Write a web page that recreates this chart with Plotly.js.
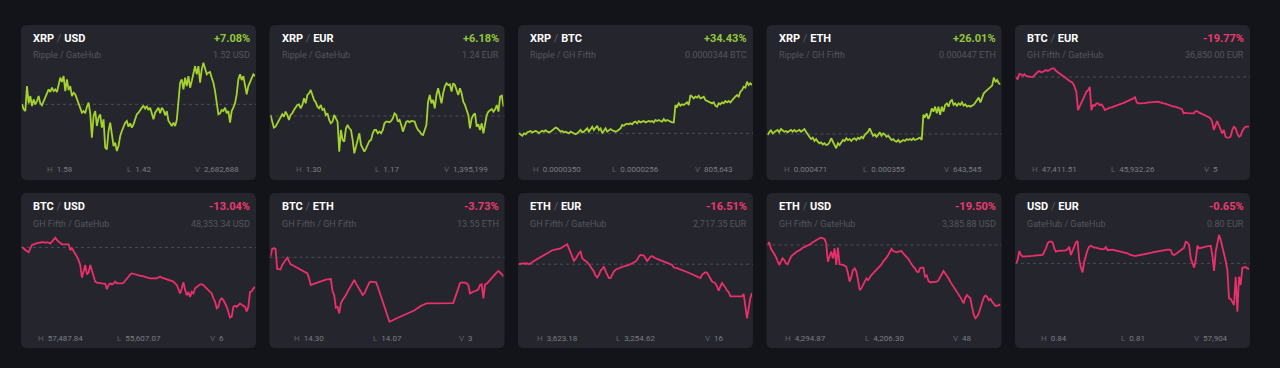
<!DOCTYPE html>
<html><head><meta charset="utf-8">
<script src="https://cdn.plot.ly/plotly-3.0.1.min.js"></script>
<style>html,body{margin:0;padding:0;background:#131419;overflow:hidden}#chart{width:1280px;height:368px}</style>
</head><body><div id="chart"></div>
<script>
// ---- card meta ----
const bases   = ['XRP','XRP','XRP','XRP','BTC','BTC','BTC','ETH','ETH','USD'];
const quotes  = ['USD','EUR','BTC','ETH','EUR','USD','ETH','EUR','USD','EUR'];
const issuers = ['Ripple / GateHub','Ripple / GateHub','Ripple / GH Fifth','Ripple / GH Fifth','GH Fifth / GateHub',
                 'GH Fifth / GateHub','GH Fifth / GH Fifth','GH Fifth / GateHub','GH Fifth / GateHub','GateHub / GateHub'];
const changes = [7.08, 6.18, 34.43, 26.01, -19.77, -13.04, -3.73, -16.51, -19.50, -0.65];
const prices  = ['1.52 USD','1.24 EUR','0.0000344 BTC','0.000447 ETH','36,850.00 EUR','48,353.34 USD','13.55 ETH','2,717.35 EUR','3,385.88 USD','0.80 EUR'];
const highs   = ['1.58','1.30','0.0000350','0.000471','47,411.51','57,487.84','14.30','3,623.18','4,294.87','0.84'];
const lows    = ['1.42','1.17','0.0000256','0.000355','45,932.26','55,607.07','14.07','3,254.62','4,206.30','0.81'];
const volumes = ['2,682,688','1,395,199','805,643','643,545','5','6','3','16','48','57,904'];

// ---- series: % change vs. opening price (dashed line = 0) ----
const xrpUsd = [0,-1.25,-1.67,4.58,0.25,2.08,-0.42,1.25,0,0.83,2.08,0.25,-0.25,0.83,1.67,2.5,3.75,3.08,4.17,3.33,
3.75,3.08,4.58,6.67,5.58,7.08,3.33,6.25,3.58,4.58,2.08,2.92,2.5,1.25,0.25,-1.42,-2.08,-1.67,-2.25,-0.58,
0.42,-2.25,-8.33,-2.92,-1.67,-5.42,-3.33,-2.5,-5.83,-3.75,-10.83,-11.25,-6.67,-4.58,-7.08,-10.42,-9.58,-11.67,-10.42,-7.92,
-6.67,-5.42,-4.58,-4.17,-5.58,-4.75,-5.83,-5,-3.75,-2.5,-2.08,-1.25,-0.83,-0.42,-1.08,-0.42,-1.42,-0.83,-2.5,-3.75,
-2.08,-1.25,-0.83,-2.25,-0.83,-1.42,-2.75,-1.67,-4.17,-4.75,-5.42,-4.58,-5.42,-3.92,1.67,5.42,6.25,3.75,6.67,4.58,
7.08,4.17,5.83,7.5,9.58,7.5,9.58,5.42,8.75,10.42,9.17,7.5,7.92,8.08,6.67,5.42,3.33,0.83,-2.5,-2.25,
-1.42,-1.67,-0.83,-2.25,-1.67,-4.58,-1.67,-0.83,0.25,2.5,6.25,7.5,6.08,7.08,5,2.5,4.58,5.58,6.42,7.5,7.08];
const xrpEur = [0.3,-1.5,-3.5,-3.2,-2.2,-1.2,-0.7,0.5,-0.2,1.3,0.3,-1.2,0.3,0.8,1.8,2.5,3.3,3.5,2.3,3.3,
5.3,3.8,6.3,6.8,7.8,6.3,4.8,4.1,2.8,2.3,3.3,1.8,2.1,0.3,0.8,-1.2,-2.2,-1.7,0.3,-0.7,
-1.7,-10.7,-4.2,-7.2,-7.7,-3.7,-2.7,-3.7,-4.2,-7.2,-11.2,-9.2,-6.7,-5.2,-8.7,-9.7,-10.7,-9.7,-8.7,-7.5,
-7.2,-5.2,-4.2,-4.2,-5.2,-4.7,-5.2,-4.2,-2.2,-1.7,-1.7,-1.9,-1.5,-0.7,0.8,0.3,-1.7,-1.2,-2.7,-4.7,
-3.2,-1.7,-1.5,-1.9,-1.5,-1.7,-1.7,-3.2,-4.2,-4.7,-5.5,-5.7,-4.2,-2.7,4.3,6.3,3.8,4.8,2.3,6.3,
8.3,6.3,3.8,6.8,8.8,9.8,9.3,9.5,7.3,9.8,9.3,7.8,6.3,8.3,6.8,4.3,3.3,1.8,0.3,-3.7,
-0.7,0.3,0.8,-3.2,-2.5,-4.2,-2.2,-5.2,-2.7,0.3,1.3,1.8,2.1,1.3,2.0,3.3,1.3,5.8,6.1,2.8];
const xrpBtc = [0,-0.7,-1.7,0,-0.7,0.7,1.2,1.7,0.7,1.2,1.7,1.2,0,1.2,1.9,1.2,2.2,1.2,0.7,1.2,
2.4,3.6,4.1,3.6,2.4,1.2,1.7,0.7,1.2,0.7,0,1.2,0.7,0,-0.7,0,1.2,2.4,0.7,1.2,
2.4,3.6,1.2,3.1,4.8,2.4,4.1,5.5,2.4,3.6,0,2.4,3.6,1.2,2.4,3.1,2.2,1.7,1.2,1.7,
2.4,3.6,6.0,5.5,6.5,7.0,6.5,7.2,6.5,7.9,8.4,7.2,8.9,7.9,8.4,8.9,7.9,8.4,8.9,8.4,
8.9,7.9,9.6,8.9,9.6,8.9,8.4,10.3,8.9,9.6,8.9,8.4,7.9,7.9,20.4,19.2,21.6,19.9,20.9,20.4,
21.6,22.3,20.4,27.6,26.4,25.2,26.4,25.7,27.1,25.2,25.7,26.4,24.0,23.3,22.8,22.3,21.6,22.3,19.9,19.2,
21.6,20.9,22.3,21.6,23.3,22.3,23.3,22.3,24.0,25.2,26.4,27.6,26.4,30.0,31.2,33.6,32.9,37.2,34.8,36.0,34.8];
const xrpEth = [-0.5,1.2,2.1,0.3,1.2,1.6,2.1,0.9,2.6,2.1,1.2,1.6,0.9,1.6,2.1,1.2,2.1,1.2,1.6,2.1,
1.2,2.1,2.6,1.2,-0.5,-1.4,-2.6,-1.9,-3.6,-2.6,-4.0,-4.8,-4.3,-5.4,-4.8,-5.7,-5.4,-4.3,-2.2,-3.6,
-5.7,-7.4,-4.8,-5.7,-4.3,-3.1,-3.6,-2.2,-3.1,-2.6,-3.6,-2.6,-2.2,-3.1,-1.9,-2.6,-1.4,-2.2,-0.5,0.3,
1.2,2.9,0.9,-0.9,-0.2,-1.4,-0.5,0.9,-0.9,0.3,-0.2,-1.4,-0.9,-2.2,-3.1,-2.6,-3.6,-4.0,-3.1,-4.3,
-3.6,-3.1,-3.6,-2.6,-3.1,-2.6,-3.1,-2.2,-3.1,-2.6,-2.2,-1.9,-3.1,9.9,9.0,10.7,7.8,9.9,13.3,11.6,
14.2,10.7,14.2,9.9,14.2,11.6,15.1,15.9,14.2,16.8,17.6,15.1,15.9,14.7,15.9,15.1,16.4,14.7,15.4,14.2,
14.7,14.2,14.7,15.1,16.4,17.6,18.9,16.4,19.4,21.1,22.0,22.8,23.7,24.0,25.1,29.2,27.2,28.0,26.3,25.8];
const btcEur = [-0.3,-0.8,1.3,1.1,0.5,1.1,0.5,0.3,0,0.1,0,0.8,1.5,2.1,2.4,1.9,2.1,2.4,2.8,2.4,
2.9,3.2,3.5,3.2,2.4,1.9,1.3,0.8,0.3,-0.3,-0.8,-1.2,-1.6,-1.9,-2.5,-3.9,-5.9,-13.2,-11.8,-10.5,
-9.2,-7.8,-5.9,-5.2,-3.9,-13.2,-11.2,-11.4,-10.5,-10.5,-11.2,-10.9,-11.8,-13.2,-12.8,-12.5,-12.2,-12.1,-11.8,-11.6,
-11.4,-11.2,-10.9,-10.6,-10.4,-10.1,-9.8,-9.6,-9.2,-8.8,-8.5,-8.0,-10.1,-10.5,-10.5,-10.5,-10.5,-10.4,-10.2,-10.1,
-10.1,-10.0,-9.8,-9.7,-9.6,-9.8,-10.1,-10.4,-10.5,-10.6,-10.9,-11.2,-11.4,-11.7,-11.8,-11.8,-12.0,-12.2,-12.5,-12.8,
-14.5,-14.2,-14.4,-14.4,-14.5,-14.5,-14.5,-13.7,-13.6,-14.1,-14.4,-14.6,-14.9,-15.2,-15.4,-16.0,-16.5,-17.8,-21.1,-19.2,
-17.6,-19.2,-21.1,-22.5,-21.1,-23.8,-24.2,-24.2,-23.8,-21.1,-19.8,-20.5,-22.5,-23.8,-23.4,-21.5,-20.5,-19.8,-19.8,-19.8];
const btcUsd = [0,-0.3,-0.9,-1.4,-1.6,-0.3,0.8,1.0,1.3,1.4,1.5,1.7,1.7,1.7,1.5,1.7,1.4,1.3,1.9,2.4,
3.2,2.4,1.9,1.3,1.0,1.0,1.0,0.8,1.0,-0.9,-0.3,-1.2,-2.0,-3.1,-4.2,-5.8,-10.0,-7.5,-5.8,-8.9,
-8.3,-5.8,-7.5,-9.2,-11.3,-11.6,-11.6,-11.8,-11.9,-11.9,-12.0,-13.8,-12.4,-11.9,-12.2,-11.9,-11.3,-11.9,-11.9,-12.0,
-11.9,-11.7,-11.1,-10.2,-9.7,-8.9,-8.6,-8.7,-8.9,-8.9,-9.1,-9.4,-9.4,-9.6,-9.8,-10.0,-10.2,-10.2,-10.2,-10.1,
-10.2,-10.2,-10.0,-9.6,-10.0,-10.2,-10.5,-10.6,-10.8,-10.9,-11.1,-11.3,-11.9,-12.4,-13.8,-15.2,-13.5,-11.5,-14.1,-15.8,
-14.7,-16.4,-14.7,-15.2,-13.5,-13.0,-12.4,-12.2,-12.2,-12.4,-13.0,-13.5,-14.1,-14.6,-15.2,-16.8,-17.9,-20.1,-19.6,-17.4,
-16.8,-17.4,-18.5,-19.6,-21.3,-23.2,-22.9,-19.6,-19.3,-19.6,-19.1,-18.5,-18.9,-19.3,-19.6,-21.1,-19.6,-14.7,-14.5,-13.6,-13.0];
const btcEth = [0.13,1.61,1.74,1.61,-2.25,-2.25,-2.31,-1.48,-0.84,-0.51,-0.06,-0.71,-1.35,-1.48,-1.67,-1.86,-1.99,-2.25,-2.44,-2.64,
-2.76,-2.89,-3.09,-4.05,-5.34,-5.21,-5.08,-4.95,-4.82,-4.69,-4.63,-4.50,-4.37,-4.31,-4.24,-4.18,-4.18,-6.49,-7.27,-9.71,
-9.58,-10.80,-8.87,-8.23,-7.78,-7.27,-6.62,-6.11,-5.66,-5.02,-4.37,-5.02,-5.66,-6.30,-6.75,-7.27,-6.94,-6.30,-5.53,-4.82,
-4.69,-4.69,-4.69,-4.82,-5.66,-6.62,-7.59,-8.55,-9.52,-10.48,-11.45,-12.41,-12.28,-12.09,-11.90,-11.77,-11.64,-11.51,-11.38,-11.25,
-11.12,-11.00,-10.87,-10.74,-10.61,-10.48,-10.22,-9.97,-9.71,-9.52,-9.32,-9.19,-9.00,-8.87,-8.87,-8.87,-8.87,-8.87,-8.87,-8.87,
-8.87,-8.87,-8.87,-8.87,-8.87,-8.87,-8.87,-8.87,-8.87,-8.81,-7.91,-6.94,-5.98,-5.02,-4.82,-4.82,-4.89,-5.02,-5.34,-6.94,
-6.75,-6.62,-6.49,-6.37,-6.17,-5.34,-5.21,-7.91,-5.21,-5.08,-4.69,-4.37,-4.05,-3.73,-3.28,-2.89,-2.64,-2.89,-3.28,-3.73];
const ethEur = [0,0.4,0.4,0.4,0.6,0.4,0,0.4,1.1,1.9,2.5,3.0,3.6,4.2,4.8,5.3,5.7,6.3,6.8,7.6,
8.0,8.2,8.4,8.6,8.7,9.1,9.7,10.3,10.8,11.4,9.1,6.3,3.4,1.9,3.0,4.9,6.3,7.2,3.4,2.5,
1.9,1.1,0,-1.3,-2.7,-4.2,-6.5,-7.6,-6.1,-3.8,-2.7,-1.3,-3.8,-6.1,-8.0,-8.0,-5.7,-4.2,-3.2,-2.7,
-2.3,-1.9,-1.5,-1.3,-1.1,-0.8,-0.4,0,0.4,0.8,1.5,2.5,4.4,5.3,5.3,4.9,3.4,1.9,3.0,4.4,
4.6,3.8,3.4,3.0,2.7,2.3,1.9,1.5,1.1,0.8,0.4,0,-0.4,-1.9,-1.9,-2.3,-2.7,-3.0,-3.4,-3.8,
-4.2,-4.6,-4.9,-5.3,-5.7,-6.1,-6.5,-6.8,-7.2,-8.0,-6.1,-5.3,-4.6,-4.9,-6.5,-8.0,-9.9,-10.3,-11.0,-12.7,
-15.2,-12.7,-10.8,-12.2,-13.3,-15.2,-16.0,-18.4,-18.4,-18.4,-18.4,-18.4,-18.4,-18.4,-18.4,-17.1,-23.4,-31.0,-25.3,-19.4,-16.5];
const ethUsd = [0.2,0.9,-1.1,-2.0,-2.8,-3.9,-5.3,-6.6,-5.5,-4.4,-5.0,-6.1,-6.4,-5.0,-3.9,-3.3,-2.8,-2.2,-2.0,-1.8,
-1.3,-0.9,-0.7,-0.4,-0.2,0,0.4,0.9,1.3,1.7,2.0,2.2,2.4,2.2,2.0,0.6,-5.5,-3.9,-2.2,-4.4,
-1.1,-6.6,-0.9,-6.4,-6.4,-6.6,-6.8,-7.2,-9.4,-12.1,-10.5,-8.3,-7.7,-8.8,-11.6,-14.9,-14.3,-13.2,-12.1,-11.0,
-11.6,-10.5,-9.9,-9.4,-8.8,-8.3,-7.7,-7.2,-6.4,-5.5,-5.0,-4.2,-3.3,-2.2,-1.3,-2.0,-2.2,-2.4,-2.2,-2.2,
-2.0,-2.8,-3.3,-3.9,-4.6,-5.5,-6.6,-7.2,-7.7,-8.8,-9.0,-7.7,-7.5,-7.5,-10.5,-10.1,-11.9,-12.3,-12.3,-12.3,
-12.3,-12.1,-11.6,-10.5,-9.4,-8.6,-9.4,-10.1,-11.0,-12.1,-12.9,-13.8,-14.5,-15.4,-16.3,-17.2,-18.2,-19.3,-17.4,-16.5,
-17.1,-17.6,-20.4,-22.9,-24.2,-23.7,-22.6,-20.7,-18.7,-17.4,-16.7,-17.1,-18.2,-17.8,-18.7,-19.3,-20.1,-20.1,-19.8,-19.6];
const usdEur = [0,0.38,1.41,0.95,0.76,0.76,0.80,0.80,0.84,0.84,0.84,0.87,0.87,0.87,0.87,0.91,0.95,1.33,1.71,2.28,2.47,
2.47,2.39,1.71,1.33,1.41,1.41,1.48,1.48,1.41,1.48,1.63,1.90,0.95,1.52,2.01,2.39,2.55,0.38,-0.49,-1.03,
0.19,0.95,1.52,1.90,2.01,1.90,1.79,1.79,1.71,1.71,1.63,1.63,1.63,1.86,1.52,1.52,1.56,1.56,1.52,1.48,
1.44,1.41,1.33,1.33,1.25,1.18,1.14,1.03,0.95,0.87,0.84,0.84,0.87,0.91,0.95,0.99,1.03,1.06,1.10,1.14,
1.18,1.25,1.29,1.33,1.37,1.41,1.44,1.48,1.52,1.52,1.56,1.56,1.52,1.03,0.95,1.06,1.18,1.33,1.48,1.63,
1.79,2.47,2.39,2.09,0.57,-0.11,-0.49,0.38,2.01,1.71,1.79,1.86,1.86,1.90,1.94,1.98,2.01,0.87,-0.87,1.33,
2.47,3.23,2.66,1.90,1.14,0.27,-0.76,-3.99,-4.07,-4.37,-4.75,-1.52,-5.51,-1.52,-2.47,-0.49,-0.42,-0.42,-0.57,-0.65];

const series = [xrpUsd, xrpEur, xrpBtc, xrpEth, btcEur, btcUsd, btcEth, ethEur, ethUsd, usdEur];

// ---- layout geometry (pixels) ----
const W = 1280, H = 368;
const CARD_W = 235, CARD_H = 155, RADIUS = 6;
const cardLeft = i => 21 + (i % 5) * 248.5;
const cardTop  = i => (i < 5 ? 25 : 193);
// vertical pixel band (offset from card top) between the series max and min
const lineBand = [[37.7,126],[58.3,128.3],[56.7,110.7],[52.7,123.3],[43.3,112.7],
                  [44.7,124.7],[55.3,128.7],[51.3,125.3],[44.7,125.3],[42,118.7]];
const UP = '#a5d22f', DOWN = '#ea2f6b';
const UP_TXT = '#93c83a', DOWN_TXT = '#ec3a6f';
const px = x => x / W, py = y => 1 - y / H;

function roundRect(x0, y0, x1, y1, r) {
  const X = v => px(v).toFixed(5), Y = v => py(v).toFixed(5);
  return `M${X(x0+r)},${Y(y0)} L${X(x1-r)},${Y(y0)} Q${X(x1)},${Y(y0)} ${X(x1)},${Y(y0+r)} ` +
         `L${X(x1)},${Y(y1-r)} Q${X(x1)},${Y(y1)} ${X(x1-r)},${Y(y1)} L${X(x0+r)},${Y(y1)} ` +
         `Q${X(x0)},${Y(y1)} ${X(x0)},${Y(y1-r)} L${X(x0)},${Y(y0+r)} Q${X(x0)},${Y(y0)} ${X(x0+r)},${Y(y0)} Z`;
}

const traces = [], shapes = [], annotations = [];
const layout = {
  width: W, height: H, margin: {l:0, r:0, t:0, b:0},
  paper_bgcolor: '#131419', plot_bgcolor: 'rgba(0,0,0,0)', showlegend: false,
  font: {family: 'Roboto, "Open Sans", sans-serif'}
};

series.forEach((vals, i) => {
  const n = i + 1, suf = n > 1 ? String(n) : '';
  const left = cardLeft(i), top = cardTop(i);
  const up = changes[i] >= 0;
  const mn = Math.min(...vals), mx = Math.max(...vals);
  const t = top + lineBand[i][0], b = top + lineBand[i][1];
  const pad = 4, k = (mx - mn) / (b - t);

  layout['xaxis' + suf] = {domain: [px(left + 1), px(left + CARD_W - 1)], range: [0, vals.length - 1],
                           visible: false, fixedrange: true};
  layout['yaxis' + suf] = {domain: [py(b + pad), py(t - pad)], range: [mn - pad * k, mx + pad * k],
                           visible: false, fixedrange: true};

  traces.push({x: vals.map((_, j) => j), y: vals, xaxis: 'x' + suf, yaxis: 'y' + suf,
               type: 'scatter', mode: 'lines', line: {color: up ? UP : DOWN, width: 1.8},
               hoverinfo: 'skip'});

  shapes.push({type: 'path', xref: 'paper', yref: 'paper', layer: 'below',
               path: roundRect(left, top, left + CARD_W, top + CARD_H, RADIUS),
               fillcolor: '#25262d', line: {width: 0}});
  shapes.push({type: 'line', xref: 'paper', yref: 'y' + suf, layer: 'below',
               x0: px(left), x1: px(left + CARD_W), y0: 0, y1: 0,
               line: {color: '#4c4e57', width: 1, dash: '3px,3px'}});

  const ann = (x, y, text, size, color, xanchor) => annotations.push({
    xref: 'paper', yref: 'paper', x: px(x), y: py(y), text, showarrow: false,
    xanchor, yanchor: 'middle', font: {size, color, family: 'Roboto, sans-serif'}, borderpad: 0});

  ann(left + 11, top + 13.5,
      `<b>${bases[i]}</b> <span style="color:#5c5e67">/</span> <b>${quotes[i]}</b>`, 11, '#ffffff', 'left');
  ann(left + CARD_W - 5, top + 13.5,
      `<b>${(up ? '+' : '') + changes[i].toFixed(2)}%</b>`, 11, up ? UP_TXT : DOWN_TXT, 'right');
  ann(left + 11, top + 30.5, issuers[i], 9, '#53555e', 'left');
  ann(left + CARD_W - 5, top + 30.5, prices[i], 9, '#53555e', 'right');

  const stats = [['H', highs[i]], ['L', lows[i]], ['V', volumes[i]]];
  stats.forEach((s, j) => {
    ann(left + 39 + j * 78.5, top + 145,
        `<span style="color:#5d5f68">${s[0]}</span>\u00a0\u00a0${s[1]}`, 8, '#7a7c85', 'center');
  });
});

layout.shapes = shapes;
layout.annotations = annotations;
Plotly.newPlot('chart', traces, layout, {staticPlot: true, displayModeBar: false});
</script>
</body></html>
